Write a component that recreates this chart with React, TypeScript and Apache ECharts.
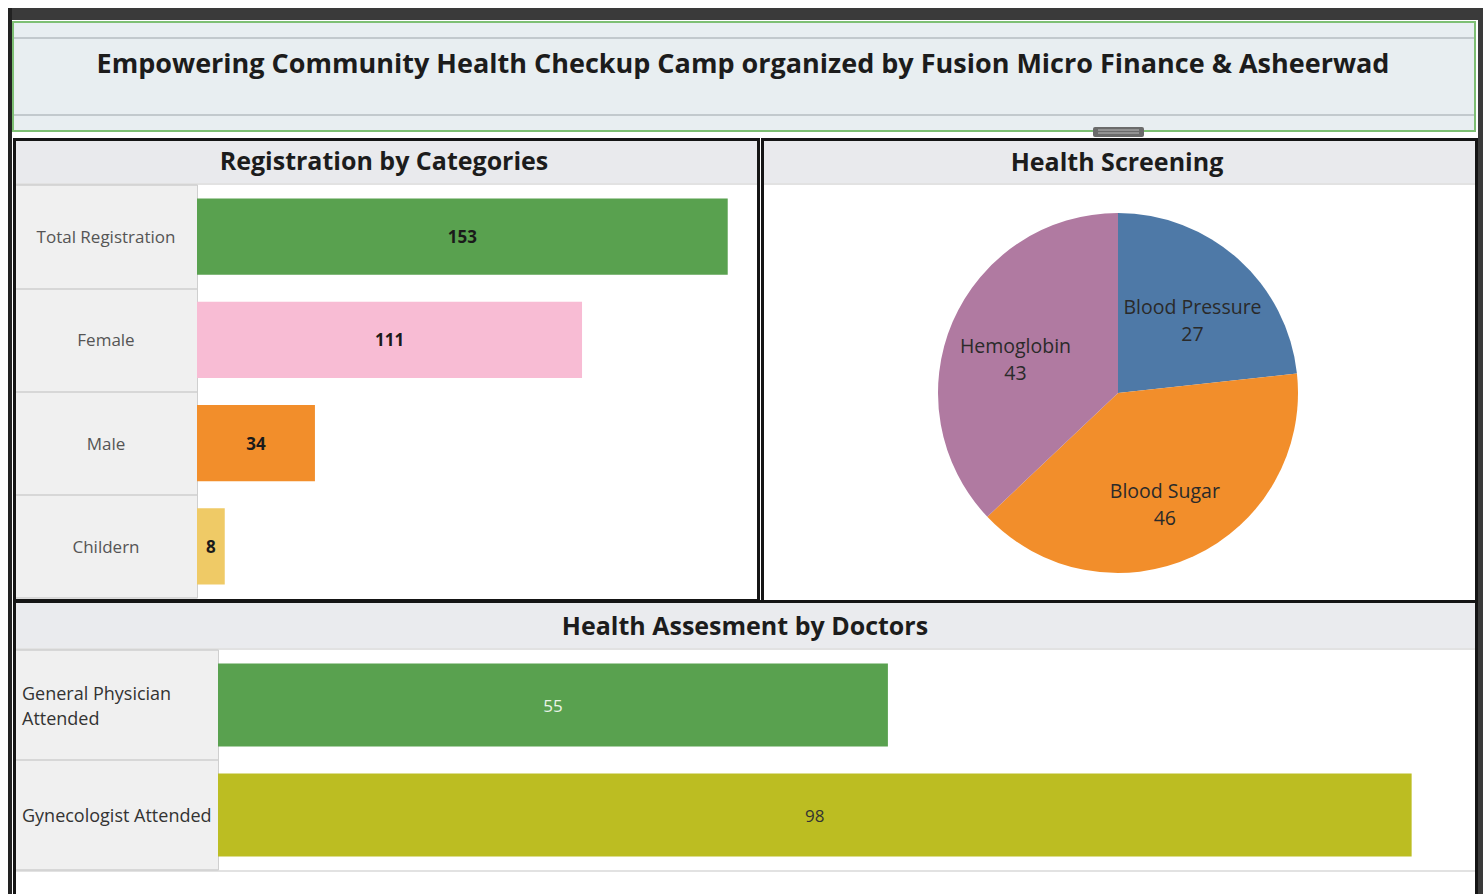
import React, { useEffect, useRef } from 'react';
import * as echarts from 'echarts';

const titleText = 'Empowering Community Health Checkup Camp organized by Fusion Micro Finance & Asheerwad';
const panelTitles = ['Registration by Categories', 'Health Screening', 'Health Assesment by Doctors'];

const regCategories = ['Total Registration', 'Female', 'Male', 'Childern'];
const regValues = [153, 111, 34, 8];
const regColors = ['#59a14f', '#f8bcd4', '#f28e2b', '#efca66'];

const screenNames = ['Blood Pressure', 'Blood Sugar', 'Hemoglobin'];
const screenValues = [27, 46, 43];
const screenColors = ['#4e79a7', '#f28e2b', '#b07aa1'];

const docCategories = ['General Physician\nAttended', 'Gynecologist Attended'];
const docValues = [55, 98];
const docColors = ['#59a14f', '#bcbd22'];
const docLabelColors = ['#eaf4e8', '#333333'];

const FONT = "'Open Sans', 'Noto Sans', sans-serif";

export default function App() {
  const ref = useRef<HTMLDivElement>(null);
  useEffect(() => {
    if (!ref.current) return;
    const chart = echarts.init(ref.current, null, { renderer: 'svg' });
    const pieCenter = [1118, 393];
    const option: any = {
      animation: false,
      backgroundColor: '#ffffff',
      textStyle: { fontFamily: FONT },
      graphic: [
        // outer frame
        { type: 'rect', z: -10, shape: { x: 8, y: 8, width: 1475, height: 12 }, style: { fill: '#3a3a3a' } },
        { type: 'rect', z: -10, shape: { x: 8, y: 8, width: 4, height: 886 }, style: { fill: '#222' } },
        { type: 'rect', z: -10, shape: { x: 1478, y: 8, width: 5, height: 886 }, style: { fill: '#3a3a3a' } },
        // title bar
        { type: 'rect', z: -9, shape: { x: 13, y: 22, width: 1462, height: 109 }, style: { fill: '#e8eef1', stroke: '#7dbf73', lineWidth: 2 } },
        { type: 'line', z: -8, shape: { x1: 14, y1: 38, x2: 1474, y2: 38 }, style: { stroke: '#b6bdc1', lineWidth: 1.5 } },
        { type: 'line', z: -8, shape: { x1: 14, y1: 115, x2: 1474, y2: 115 }, style: { stroke: '#b6bdc1', lineWidth: 1.5 } },
        { type: 'text', z: 5, style: { text: titleText, x: 743, y: 62, align: 'center', verticalAlign: 'middle', fontFamily: FONT, fontWeight: 'bold', fontSize: 27, fill: '#1c1c1c' } },
        // handle
        { type: 'rect', z: 5, shape: { x: 1093, y: 127, width: 51, height: 10, r: 2 }, style: { fill: '#6b6b6b' } },
        { type: 'line', z: 6, shape: { x1: 1098, y1: 130, x2: 1139, y2: 130 }, style: { stroke: '#bbb', lineWidth: 1 } },
        { type: 'line', z: 6, shape: { x1: 1098, y1: 133, x2: 1139, y2: 133 }, style: { stroke: '#bbb', lineWidth: 1 } },
        // left panel
        { type: 'rect', z: -9, shape: { x: 14.5, y: 139.5, width: 744, height: 461 }, style: { fill: '#ffffff', stroke: '#151515', lineWidth: 3 } },
        { type: 'rect', z: -8, shape: { x: 16, y: 141, width: 741, height: 42 }, style: { fill: '#e9eaed' } },
        { type: 'rect', z: -8, shape: { x: 16, y: 185, width: 181, height: 413 }, style: { fill: '#f0f0f0' } },
        { type: 'line', z: -7, shape: { x1: 16, y1: 184, x2: 757, y2: 184 }, style: { stroke: '#d8d8d8', lineWidth: 1.5 } },
        { type: 'text', z: 5, style: { text: panelTitles[0], x: 384, y: 160, align: 'center', verticalAlign: 'middle', fontFamily: FONT, fontWeight: 'bold', fontSize: 25, fill: '#1c1c1c' } },
        // right panel
        { type: 'rect', z: -9, shape: { x: 762.5, y: 139.5, width: 714, height: 463 }, style: { fill: '#ffffff', stroke: '#151515', lineWidth: 3 } },
        { type: 'rect', z: -8, shape: { x: 764, y: 141, width: 711, height: 42 }, style: { fill: '#e9eaed' } },
        { type: 'line', z: -7, shape: { x1: 764, y1: 184, x2: 1475, y2: 184 }, style: { stroke: '#d8d8d8', lineWidth: 1.5 } },
        { type: 'text', z: 5, style: { text: panelTitles[1], x: 1117, y: 161, align: 'center', verticalAlign: 'middle', fontFamily: FONT, fontWeight: 'bold', fontSize: 25, fill: '#1c1c1c' } },
        // bottom panel
        { type: 'rect', z: -9, shape: { x: 14.5, y: 601.5, width: 1462, height: 300 }, style: { fill: '#ffffff', stroke: '#151515', lineWidth: 3 } },
        { type: 'rect', z: -8, shape: { x: 16, y: 603, width: 1459, height: 45 }, style: { fill: '#eaebee' } },
        { type: 'rect', z: -8, shape: { x: 16, y: 650, width: 202, height: 220 }, style: { fill: '#f0f0f0' } },
        { type: 'line', z: -7, shape: { x1: 16, y1: 649, x2: 1475, y2: 649 }, style: { stroke: '#d8d8d8', lineWidth: 1.5 } },
        { type: 'line', z: -7, shape: { x1: 16, y1: 871, x2: 1475, y2: 871 }, style: { stroke: '#d8d8d8', lineWidth: 1.5 } },
        { type: 'text', z: 5, style: { text: panelTitles[2], x: 745, y: 625, align: 'center', verticalAlign: 'middle', fontFamily: FONT, fontWeight: 'bold', fontSize: 25, fill: '#1c1c1c' } },
      ],
      grid: [
        { left: 197, top: 185, width: 555, height: 413, containLabel: false },
        { left: 218, top: 650, width: 1218, height: 220, containLabel: false },
      ],
      xAxis: [
        { type: 'value', gridIndex: 0, min: 0, max: 160, show: false },
        { type: 'value', gridIndex: 1, min: 0, max: 100, show: false },
      ],
      yAxis: [
        {
          type: 'category', gridIndex: 0, inverse: true, data: regCategories,
          axisLine: { show: true, lineStyle: { color: '#cfcfcf', width: 1 } },
          axisTick: { show: true, length: 181, lineStyle: { color: '#cfcfcf', width: 1.5 } },
          axisLabel: { margin: 91, align: 'center', fontFamily: FONT, fontSize: 17, color: '#555555' },
        },
        {
          type: 'category', gridIndex: 1, inverse: true, data: docCategories,
          axisLine: { show: true, lineStyle: { color: '#cfcfcf', width: 1 } },
          axisTick: { show: true, length: 202, lineStyle: { color: '#cfcfcf', width: 1.5 } },
          axisLabel: { margin: 196, align: 'left', fontFamily: FONT, fontSize: 18, color: '#333333', lineHeight: 25 },
        },
      ],
      series: [
        {
          type: 'bar', xAxisIndex: 0, yAxisIndex: 0, barCategoryGap: '26%',
          data: regValues.map((v, i) => ({ value: v, itemStyle: { color: regColors[i] } })),
          label: { show: true, position: 'inside', fontFamily: FONT, fontWeight: 'bold', fontSize: 17, color: '#1a1a1a' },
        },
        {
          type: 'bar', xAxisIndex: 1, yAxisIndex: 1, barCategoryGap: '24.5%',
          data: docValues.map((v, i) => ({
            value: v,
            itemStyle: { color: docColors[i] },
            label: { color: docLabelColors[i] },
          })),
          label: { show: true, position: 'inside', fontFamily: FONT, fontSize: 17 },
        },
        {
          type: 'pie', center: pieCenter, radius: [0, 180], startAngle: 90, clockwise: true,
          data: screenNames.map((n, i) => ({ name: n, value: screenValues[i], itemStyle: { color: screenColors[i] } })),
          label: {
            show: true, position: 'inside', formatter: '{b}\n{c}',
            fontFamily: FONT, fontSize: 19.5, lineHeight: 27, color: '#2a2a2a',
          },
          labelLine: { show: false },
          labelLayout: (p: any) => {
            const r = p.labelRect;
            const cx = r.x + r.width / 2;
            const cy = r.y + r.height / 2;
            return { dx: (cx - pieCenter[0]) * 0.2, dy: (cy - pieCenter[1]) * 0.2 + 10 };
          },
        },
      ],
    };
    chart.setOption(option);
    return () => chart.dispose();
  }, []);
  return <div ref={ref} style={{ position: 'absolute', left: 0, top: 0, width: 1483, height: 894 }} />;
}
